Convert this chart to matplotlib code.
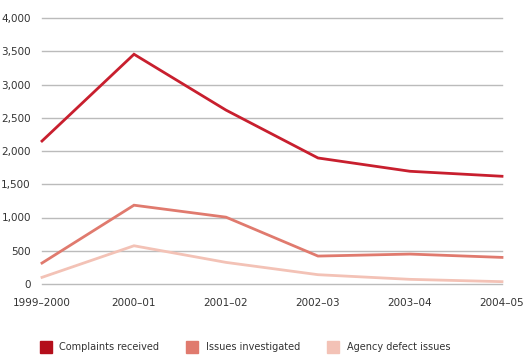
import matplotlib
matplotlib.use("Agg")
import matplotlib.pyplot as plt
from matplotlib.lines import Line2D

years = ["1999\u20132000", "2000\u201301", "2001\u201302", "2002\u201303", "2003\u201304", "2004\u201305"]
complaints = [2150, 3455, 2615, 1895, 1695, 1620]
investigated = [315, 1185, 1005, 420, 450, 400]
defects = [100, 575, 325, 140, 70, 35]

series = [
    ("Complaints received", complaints, "#c81f2e", "#b40e1b"),
    ("Issues investigated", investigated, "#e07a6e", "#e07a6e"),
    ("Agency defect issues", defects, "#f3c2b6", "#f3c2b6"),
]

W, H = 530, 364
fig = plt.figure(figsize=(W / 100, H / 100), dpi=100)
ax = fig.add_axes([42 / W, 1 - 284 / H, 460 / W, 266 / H])

x = range(len(years))
for label, vals, color, _ in series:
    ax.plot(x, vals, color=color, lw=2, solid_joinstyle="miter", zorder=3, clip_on=False)

ax.set_xlim(0, len(years) - 1)
ax.set_ylim(0, 4000)
ax.set_yticks(range(0, 4001, 500))
ax.set_yticklabels([f"{v:,}" for v in range(0, 4001, 500)])
ax.set_xticks(list(x))
ax.set_xticklabels(years)
ax.grid(axis="y", color="#bbbbbb", lw=1)
for gl in ax.get_ygridlines():
    gl.set_clip_on(False)
ax.set_axisbelow(True)
for s in ax.spines.values():
    s.set_visible(False)
ax.tick_params(length=0, labelsize=7.5, colors="#333333")
ax.tick_params(axis="y", pad=8)
ax.tick_params(axis="x", pad=10)

handles = [Line2D([], [], ls="none", marker="s", markersize=9, color=c) for _, _, _, c in series]
fig.legend(handles, [s[0] for s in series], loc="center left",
           bbox_to_anchor=(31 / W, 1 - 347 / H), ncol=3, frameon=False,
           fontsize=7, labelcolor="#333333", handletextpad=0.8,
           columnspacing=2.8, handlelength=1.2)

fig.savefig("out.png", dpi=100)
